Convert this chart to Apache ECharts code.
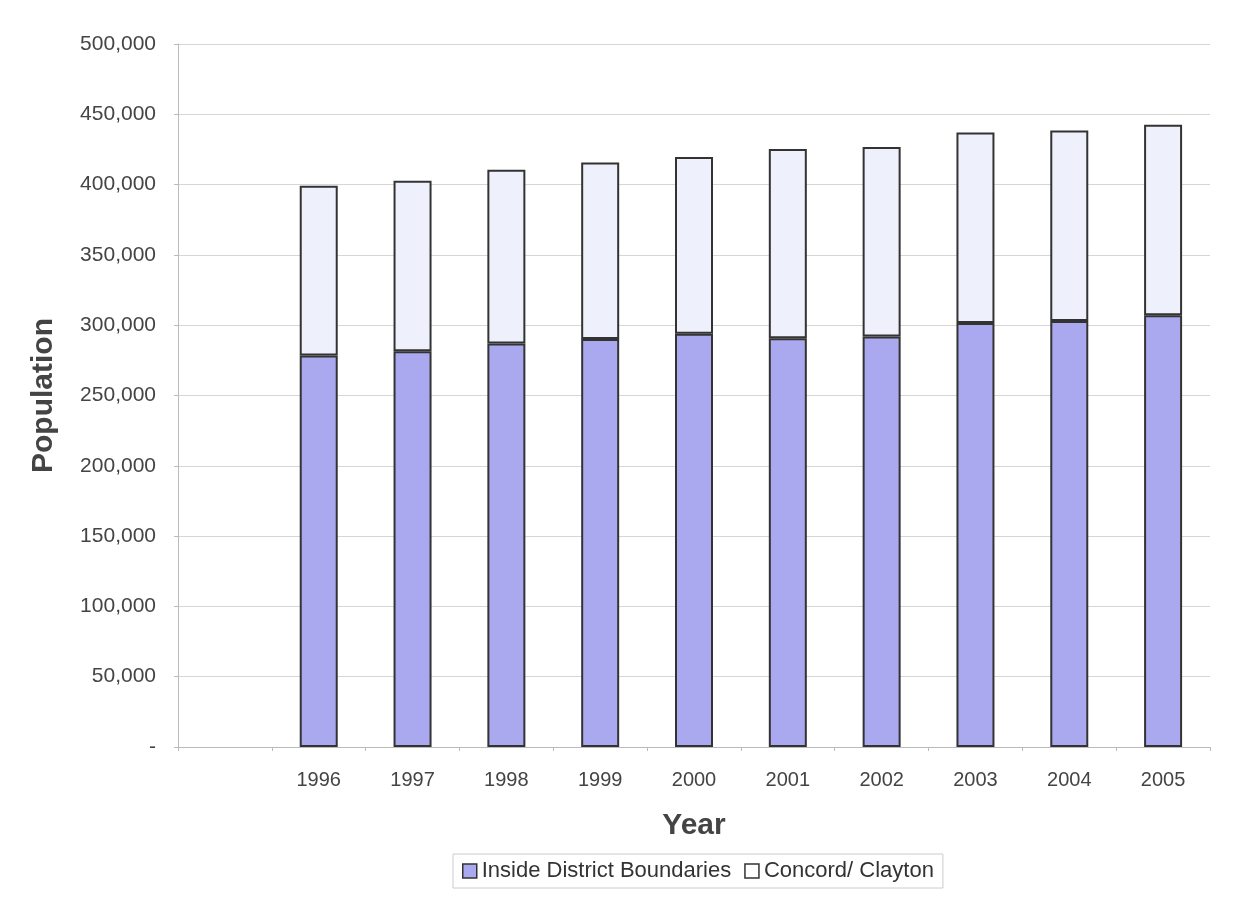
<!DOCTYPE html>
<html>
<head>
<meta charset="utf-8">
<script src="https://cdn.jsdelivr.net/npm/echarts@6/dist/echarts.min.js"></script>
<style>
html,body{margin:0;padding:0;background:#fff;}
#chart{width:1244px;height:909px;}
</style>
</head>
<body>
<div id="chart"></div>
<script>
var years = ['', '1996', '1997', '1998', '1999', '2000', '2001', '2002', '2003', '2004', '2005'];
var insideDistrict = [null, 278400, 281400, 286900, 290200, 294000, 290700, 291900, 301600, 303000, 307000];
var concordClayton = [null, 120800, 121400, 123700, 125600, 125700, 134600, 134900, 135500, 135400, 135600];
var yTicks = { min: 0, max: 500000, interval: 50000 };

var chart = echarts.init(document.getElementById('chart'), null, { renderer: 'canvas' });
var font = 'Liberation Sans, Arial, sans-serif';
chart.setOption({
  animation: false,
  backgroundColor: '#ffffff',
  grid: { left: 178, right: 34, top: 44, bottom: 162, containLabel: false },
  legend: {
    bottom: 21,
    left: 453,
    itemWidth: 14,
    itemHeight: 14,
    itemGap: 13,
    padding: [6, 9, 6, 9],
    borderColor: '#cccccc',
    borderWidth: 1,
    textStyle: { fontFamily: font, fontSize: 22, color: '#333333' },
    data: [
      { name: 'Inside District Boundaries', itemStyle: { color: '#aaa8ee', borderColor: '#333', borderWidth: 1.5 } },
      { name: 'Concord/ Clayton', itemStyle: { color: '#ffffff', borderColor: '#333', borderWidth: 1.5 } }
    ],
    icon: 'rect'
  },
  xAxis: {
    type: 'category',
    data: years,
    name: 'Year',
    nameLocation: 'middle',
    nameGap: 64,
    nameTextStyle: { fontFamily: font, fontSize: 30, fontWeight: 'bold', color: '#444444' },
    axisLine: { show: true, lineStyle: { color: '#bbbbbb', width: 1 } },
    axisTick: { show: true, alignWithLabel: false, length: 4, lineStyle: { color: '#bbbbbb' } },
    axisLabel: { fontFamily: font, fontSize: 20, color: '#444444', margin: 23 }
  },
  yAxis: {
    type: 'value',
    min: yTicks.min,
    max: yTicks.max,
    interval: yTicks.interval,
    name: 'Population',
    nameLocation: 'middle',
    nameGap: 119,
    nameRotate: 90,
    nameTextStyle: { fontFamily: font, fontSize: 30, fontWeight: 'bold', color: '#444444' },
    axisLine: { show: true, lineStyle: { color: '#bbbbbb', width: 1 } },
    axisTick: { show: true, length: 4, lineStyle: { color: '#bbbbbb' } },
    splitLine: { show: true, lineStyle: { color: '#d6d6d6', width: 1 } },
    axisLabel: {
      fontFamily: font, fontSize: 21, color: '#444444', margin: 22,
      formatter: function (v) { return v === 0 ? '-' : v.toLocaleString('en-US'); }
    }
  },
  series: [
    {
      name: 'Inside District Boundaries',
      type: 'bar',
      stack: 'pop',
      barWidth: 38,
      data: insideDistrict,
      itemStyle: { color: '#aaa8ee', borderColor: '#333333', borderWidth: 2 }
    },
    {
      name: 'Concord/ Clayton',
      type: 'bar',
      stack: 'pop',
      barWidth: 38,
      data: concordClayton,
      itemStyle: { color: '#eef1fb', borderColor: '#333333', borderWidth: 2 }
    }
  ]
});
</script>
</body>
</html>
